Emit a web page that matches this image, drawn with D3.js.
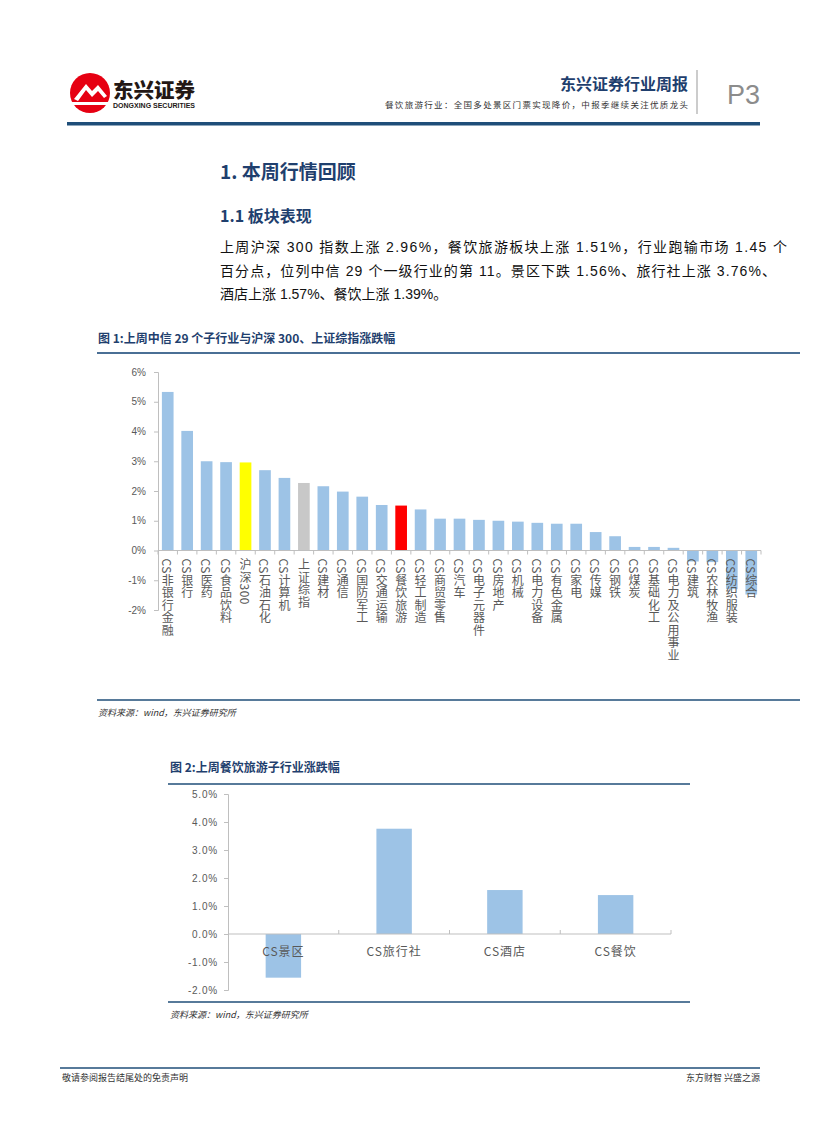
<!DOCTYPE html>
<html>
<head>
<meta charset="utf-8">
<script src="https://cdn.jsdelivr.net/npm/d3@7"></script>
<style>
  body { margin: 0; background: #fff; }
  svg { display: block; font-family: "Liberation Sans", "Noto Sans CJK SC", sans-serif; }
</style>
</head>
<body>
<svg id="page" width="827" height="1122"></svg>
<script>
// 图1 数据：中信一级行业 + 沪深300、上证综指
const industries = ["CS非银行金融", "CS银行", "CS医药", "CS食品饮料", "沪深300", "CS石油石化", "CS计算机",
  "上证综指", "CS建材", "CS通信", "CS国防军工", "CS交通运输", "CS餐饮旅游", "CS轻工制造", "CS商贸零售",
  "CS汽车", "CS电子元器件", "CS房地产", "CS机械", "CS电力设备", "CS有色金属", "CS家电", "CS传媒",
  "CS钢铁", "CS煤炭", "CS基础化工", "CS电力及公用事业", "CS建筑", "CS农林牧渔", "CS纺织服装", "CS综合"];
const industryChange = [5.33, 4.02, 3.00, 2.97, 2.96, 2.70, 2.44, 2.27, 2.16, 1.98, 1.81, 1.53, 1.51, 1.38, 1.07,
  1.07, 1.03, 1.00, 0.97, 0.93, 0.90, 0.90, 0.62, 0.48, 0.12, 0.12, 0.09, -0.37, -0.39, -1.30, -1.48];
const ticks1 = [-2, -1, 0, 1, 2, 3, 4, 5, 6];

// 图2 数据：餐饮旅游子行业
const subIndustries = ["CS景区", "CS旅行社", "CS酒店", "CS餐饮"];
const subChange = [-1.56, 3.76, 1.57, 1.39];
const ticks2 = [-2, -1, 0, 1, 2, 3, 4, 5];

const svg = d3.select("#page");
const navy = "#1f3f6e";
const lineBlue = "#1f4e79";
const barBlue = "#9dc3e6";
const grey = "#595959";

// ---------- 页眉 ----------
const logo = svg.append("g");
logo.append("circle").attr("cx", 90).attr("cy", 93).attr("r", 20).attr("fill", "#e60012");
logo.append("path")
  .attr("d", "M74,99 L86,84 L92,91 L98,85 L107,96 L104,98 L98,91 L92,97 L86,90 L78,101 Z")
  .attr("fill", "#fff");
logo.append("path")
  .attr("d", "M72,102 L108,102 L108,105 L72,105 Z")
  .attr("fill", "#fff");
svg.append("text").attr("x", 113).attr("y", 98)
  .attr("font-family", "Noto Sans CJK SC").attr("font-weight", 900).attr("font-size", 20)
  .attr("textLength", 82).attr("lengthAdjust", "spacingAndGlyphs")
  .attr("fill", "#231815").text("东兴证券");
svg.append("text").attr("x", 113).attr("y", 108)
  .attr("font-family", "Liberation Sans").attr("font-weight", "bold").attr("font-size", 6.5)
  .attr("textLength", 82).attr("lengthAdjust", "spacingAndGlyphs")
  .attr("fill", "#231815").text("DONGXING SECURITIES");

svg.append("text").attr("x", 688).attr("y", 90).attr("text-anchor", "end")
  .attr("font-family", "Noto Sans CJK SC").attr("font-weight", "bold").attr("font-size", 16)
  .attr("fill", navy).text("东兴证券行业周报");
svg.append("text").attr("x", 385).attr("y", 108)
  .attr("font-family", "Noto Sans CJK SC").attr("font-size", 8.5).attr("fill", "#333")
  .attr("textLength", 303).attr("lengthAdjust", "spacing")
  .text("餐饮旅游行业：全国多处景区门票实现降价，中报季继续关注优质龙头");
svg.append("line").attr("x1", 697).attr("x2", 697).attr("y1", 70).attr("y2", 114)
  .attr("stroke", "#999").attr("stroke-width", 1);
svg.append("text").attr("x", 727).attr("y", 104)
  .attr("font-family", "Liberation Sans").attr("font-size", 27).attr("fill", "#8c8c8c").text("P3");
svg.append("rect").attr("x", 67).attr("y", 122).attr("width", 693).attr("height", 3.5).attr("fill", lineBlue);

// ---------- 标题与正文 ----------
svg.append("text").attr("x", 220).attr("y", 179)
  .attr("font-family", "Noto Sans CJK SC").attr("font-weight", "bold").attr("font-size", 19)
  .attr("fill", navy).text("1. 本周行情回顾");
svg.append("text").attr("x", 220).attr("y", 222)
  .attr("font-family", "Noto Sans CJK SC").attr("font-weight", "bold").attr("font-size", 16)
  .attr("fill", navy).text("1.1 板块表现");

const para = [
  { t: "上周沪深 300 指数上涨 2.96%，餐饮旅游板块上涨 1.51%，行业跑输市场 1.45 个", w: 567 },
  { t: "百分点，位列中信 29 个一级行业的第 11。景区下跌 1.56%、旅行社上涨 3.76%、", w: 556 },
  { t: "酒店上涨 1.57%、餐饮上涨 1.39%。", w: null }
];
para.forEach((p, i) => {
  const t = svg.append("text").attr("x", 220).attr("y", 252 + i * 23.5)
    .attr("font-family", "Liberation Sans, Noto Sans CJK SC").attr("font-size", 14)
    .attr("fill", "#111").text(p.t);
  if (p.w) t.attr("textLength", p.w).attr("lengthAdjust", "spacing");
});

// ---------- 图1 ----------
svg.append("text").attr("x", 98).attr("y", 343)
  .attr("font-family", "Noto Sans CJK SC").attr("font-weight", "bold").attr("font-size", 12)
  .attr("fill", navy).text("图 1:上周中信 29 个子行业与沪深 300、上证综指涨跌幅");
svg.append("line").attr("x1", 97).attr("x2", 800).attr("y1", 353).attr("y2", 353)
  .attr("stroke", "#4a6f95").attr("stroke-width", 2);

const x1 = d3.scaleBand().domain(industries).range([158, 761]).paddingInner(0.4).paddingOuter(0.2);
const y1 = d3.scaleLinear().domain([-2, 6]).range([610, 372]);

const g1 = svg.append("g");
g1.selectAll("rect").data(industries).join("rect")
  .attr("x", d => x1(d))
  .attr("width", x1.bandwidth())
  .attr("y", (d, i) => y1(Math.max(0, industryChange[i])))
  .attr("height", (d, i) => Math.abs(y1(industryChange[i]) - y1(0)))
  .attr("fill", d => d === "沪深300" ? "#ffff00" : d === "上证综指" ? "#c8c8c8" : d === "CS餐饮旅游" ? "#ff0000" : barBlue);

const yAxis1 = g1.append("g").attr("transform", "translate(158,0)")
  .call(d3.axisLeft(y1).tickValues(ticks1).tickSize(4).tickFormat(d => d + "%"));
yAxis1.select(".domain").attr("stroke", "#bfbfbf");
yAxis1.selectAll(".tick line").attr("stroke", "#bfbfbf");
yAxis1.selectAll(".tick text").attr("fill", grey).attr("font-size", 10).attr("x", -12)
  .attr("font-family", "Liberation Sans");

// x轴（0% 处）与类别边界刻度
g1.append("line").attr("x1", 158).attr("x2", 761).attr("y1", y1(0)).attr("y2", y1(0)).attr("stroke", "#bfbfbf");
const step1 = x1.step();
g1.selectAll("line.cat").data(d3.range(industries.length + 1)).join("line").attr("class", "cat")
  .attr("x1", i => 158 + i * step1).attr("x2", i => 158 + i * step1)
  .attr("y1", y1(0)).attr("y2", y1(0) + 4).attr("stroke", "#bfbfbf");

g1.selectAll("text.lbl").data(industries).join("text").attr("class", "lbl")
  .attr("transform", d => `translate(${x1(d) + x1.bandwidth() / 2},${y1(0) + 8})`)
  .attr("writing-mode", "vertical-rl")
  .style("writing-mode", "vertical-rl")
  .attr("font-family", "Noto Sans CJK SC").attr("font-size", 12).attr("fill", grey)
  .attr("letter-spacing", 0.5)
  .text(d => d);

svg.append("line").attr("x1", 97).attr("x2", 800).attr("y1", 700).attr("y2", 700)
  .attr("stroke", lineBlue).attr("stroke-width", 1.5);
svg.append("text").attr("x", 98).attr("y", 716)
  .attr("font-family", "Noto Sans CJK SC").attr("font-style", "italic").attr("font-size", 9)
  .attr("fill", "#333").text("资料来源：wind，东兴证券研究所");

// ---------- 图2 ----------
svg.append("text").attr("x", 170).attr("y", 772)
  .attr("font-family", "Noto Sans CJK SC").attr("font-weight", "bold").attr("font-size", 12)
  .attr("fill", navy).text("图 2:上周餐饮旅游子行业涨跌幅");
svg.append("line").attr("x1", 168).attr("x2", 690).attr("y1", 784).attr("y2", 784)
  .attr("stroke", lineBlue).attr("stroke-width", 1.5);

const x2 = d3.scaleBand().domain(subIndustries).range([228, 671]).paddingInner(0.68).paddingOuter(0.34);
const y2 = d3.scaleLinear().domain([-2, 5]).range([990, 794]);

const g2 = svg.append("g");
g2.selectAll("rect").data(subIndustries).join("rect")
  .attr("x", d => x2(d))
  .attr("width", x2.bandwidth())
  .attr("y", (d, i) => y2(Math.max(0, subChange[i])))
  .attr("height", (d, i) => Math.abs(y2(subChange[i]) - y2(0)))
  .attr("fill", barBlue);

const yAxis2 = g2.append("g").attr("transform", "translate(228,0)")
  .call(d3.axisLeft(y2).tickValues(ticks2).tickSize(4).tickFormat(d => d.toFixed(1) + "%"));
yAxis2.select(".domain").attr("stroke", "#bfbfbf");
yAxis2.selectAll(".tick line").attr("stroke", "#bfbfbf");
yAxis2.selectAll(".tick text").attr("fill", grey).attr("font-size", 10).attr("x", -10)
  .attr("letter-spacing", 0.8).attr("font-family", "Liberation Sans");

g2.append("line").attr("x1", 228).attr("x2", 671).attr("y1", y2(0)).attr("y2", y2(0)).attr("stroke", "#bfbfbf");
const step2 = x2.step();
g2.selectAll("line.cat").data(d3.range(1, subIndustries.length + 1)).join("line").attr("class", "cat")
  .attr("x1", i => 228 + i * step2).attr("x2", i => 228 + i * step2)
  .attr("y1", y2(0) - 4).attr("y2", y2(0)).attr("stroke", "#bfbfbf");

g2.selectAll("text.lbl").data(subIndustries).join("text").attr("class", "lbl")
  .attr("x", d => x2(d) + x2.bandwidth() / 2).attr("y", y2(0) + 22)
  .attr("text-anchor", "middle")
  .attr("font-family", "Noto Sans CJK SC").attr("font-size", 12).attr("fill", grey)
  .attr("letter-spacing", 1)
  .text(d => d);

svg.append("line").attr("x1", 168).attr("x2", 690).attr("y1", 1002).attr("y2", 1002)
  .attr("stroke", lineBlue).attr("stroke-width", 1.5);
svg.append("text").attr("x", 170).attr("y", 1018)
  .attr("font-family", "Noto Sans CJK SC").attr("font-style", "italic").attr("font-size", 9)
  .attr("fill", "#333").text("资料来源：wind，东兴证券研究所");

// ---------- 页脚 ----------
svg.append("line").attr("x1", 60).attr("x2", 760).attr("y1", 1068).attr("y2", 1068)
  .attr("stroke", lineBlue).attr("stroke-width", 1.5);
svg.append("text").attr("x", 62).attr("y", 1081)
  .attr("font-family", "Noto Sans CJK SC").attr("font-size", 9).attr("fill", "#333")
  .text("敬请参阅报告结尾处的免责声明");
svg.append("text").attr("x", 760).attr("y", 1081).attr("text-anchor", "end")
  .attr("font-family", "Noto Sans CJK SC").attr("font-size", 9).attr("fill", "#333")
  .text("东方财智 兴盛之源");
</script>
</body>
</html>
